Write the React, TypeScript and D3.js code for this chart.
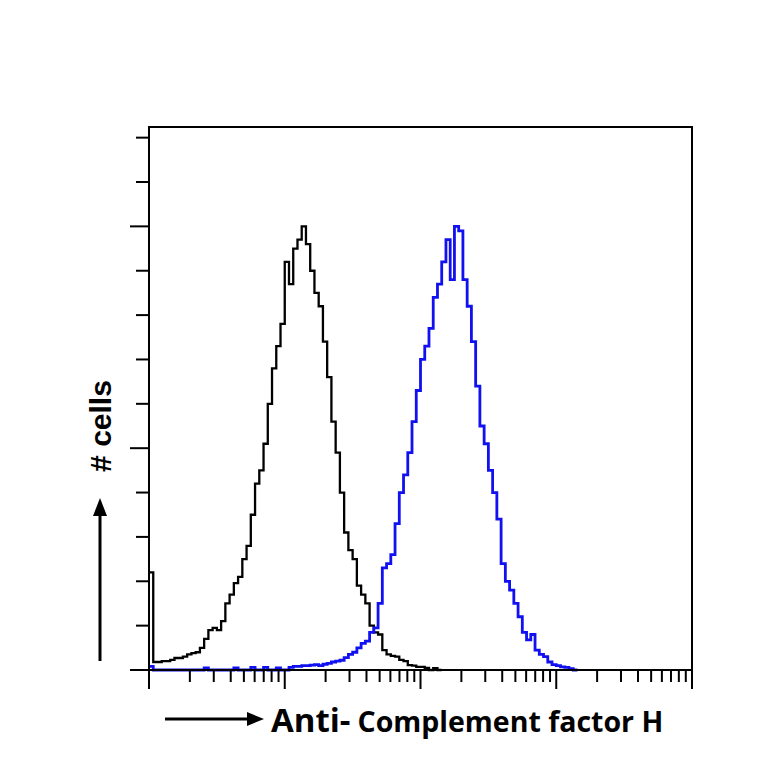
import React from "react";
import * as d3 from "d3";

// Histogram channels: 128 log-spaced bins across 4 decades (1 .. 10^4)
const NBINS = 128;
const DECADES = 4;

// Isotype control (black) counts per channel
const controlCounts = [
  22, 1.8, 1.8, 2, 2, 2.3, 2.7, 2.7, 3, 3.5, 3.8, 4, 5, 7, 9, 9.5, 9, 11, 15, 17,
  19.6, 21, 25, 28, 35, 42, 45, 51, 60, 68, 73, 78, 92, 87, 95, 97, 100, 96, 90, 85,
  82, 74, 66, 56, 49, 40, 31, 27, 25, 19, 17, 15, 10, 8.5, 8, 4.5, 3.5, 3.2, 3, 2.3,
  2, 1.1, 1, 0.7, 0.7, 0.5, 0, 0.4, 0,
];

// Anti-Complement factor H (blue) counts per channel
const antibodyCounts = [
  0.8, 0, 0, 0, 0, 0, 0, 0, 0, 0, 0, 0, 0, 0.5, 0, 0, 0, 0, 0, 0,
  0.5, 0, 0, 0, 0.6, 0, 0, 0.6, 0, 0, 0.5, 0, 0, 0.6, 0.8, 0.8, 1, 1, 1.1, 1.2,
  1, 1.3, 1.5, 1.8, 2, 2.2, 2.8, 3.5, 4, 5, 6, 6.5, 8.5, 9.5, 15, 23, 24, 26, 33, 40,
  44, 49, 56, 63, 70, 73, 77, 84, 87, 92, 97, 88, 100, 99, 88, 82, 74, 64, 55, 51,
  45, 40, 34, 24, 20, 18, 15, 12, 8.5, 6.8, 8, 4.5, 3.5, 3, 1.8, 1.2, 1, 0.7, 0.6, 0.3,
  0,
];

const yTicks = [0, 10, 20, 30, 40, 50, 60, 70, 80, 90, 100, 110, 120];
const yMajorTicks = [0, 50, 100];
const xMajorTicks = [1, 10, 100, 1000, 10000];

const xLabelBold = "Anti-";
const xLabelRest = "Complement factor H";
const yLabel = "# cells";

export default function App() {
  const W = 764;
  const H = 764;
  const left = 149;
  const right = 692;
  const top = 127;
  const bottom = 670;

  const x = d3.scaleLog().domain([1, Math.pow(10, DECADES)]).range([left, right]);
  const y = d3.scaleLinear().domain([0, 122.4]).range([bottom, top]);

  const edge = (i: number) => Math.pow(10, (DECADES * i) / NBINS);

  const toPts = (counts: number[]) => {
    const pts: [number, number][] = counts.map((c, i) => [edge(i), c]);
    pts.push([edge(counts.length), counts[counts.length - 1]]);
    return pts;
  };

  const line = d3
    .line<[number, number]>()
    .x((d) => x(d[0]))
    .y((d) => y(d[1]))
    .curve(d3.curveStepAfter);

  const minorX: number[] = [];
  for (let dec = 0; dec < DECADES; dec++) {
    for (let k = 2; k <= 9; k++) minorX.push(k * Math.pow(10, dec));
  }

  return (
    <svg width={W} height={H} style={{ position: "absolute", left: 0, top: 0, background: "#fff" }}>
      <rect x={0} y={0} width={W} height={H} fill="#fff" />
      {/* histograms */}
      <path d={line(toPts(controlCounts)) || ""} fill="none" stroke="#000" strokeWidth={2.3} />
      <path d={line(toPts(antibodyCounts)) || ""} fill="none" stroke="#1010f0" strokeWidth={2.8} />

      {/* frame */}
      <rect x={left} y={top} width={right - left} height={bottom - top} fill="none" stroke="#000" strokeWidth={2} />

      {/* y ticks */}
      {yTicks.map((t) => {
        const major = yMajorTicks.includes(t);
        return (
          <line key={"y" + t} x1={left} x2={left - (major ? 19 : 13)} y1={y(t)} y2={y(t)} stroke="#000" strokeWidth={2} />
        );
      })}

      {/* x ticks */}
      {minorX.map((v) => (
        <line key={"xm" + v} x1={x(v)} x2={x(v)} y1={bottom} y2={bottom + 12} stroke="#000" strokeWidth={2} />
      ))}
      {xMajorTicks.map((v) => (
        <line key={"xM" + v} x1={x(v)} x2={x(v)} y1={bottom} y2={bottom + 19} stroke="#000" strokeWidth={2} />
      ))}

      {/* y label & arrow */}
      <line x1={100} x2={100} y1={661} y2={515} stroke="#000" strokeWidth={3} />
      <path d="M100,498 L93,516 L107,516 Z" fill="#000" />
      <text
        transform="translate(111,426) rotate(-90)"
        textAnchor="middle"
        fontFamily="'Liberation Sans', Arial, sans-serif"
        fontWeight="bold"
        fontSize={30}
        fill="#000"
      >
        {yLabel}
      </text>

      {/* x label & arrow */}
      <line x1={165} x2={248} y1={719} y2={719} stroke="#000" strokeWidth={3} />
      <path d="M264,719 L247,712 L247,726 Z" fill="#000" />
      <text x={271} y={732} fontFamily="'Open Sans', sans-serif" fontWeight="bold" fill="#000">
        <tspan fontSize={33}>{xLabelBold}</tspan>
        <tspan fontSize={28.5} dx={7}>{xLabelRest}</tspan>
      </text>
    </svg>
  );
}
